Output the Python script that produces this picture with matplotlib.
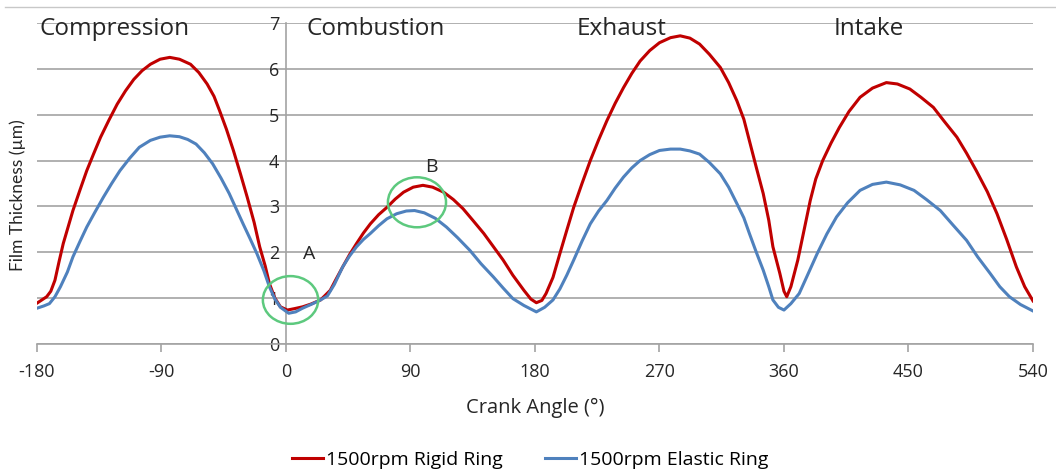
import matplotlib.pyplot as plt
from matplotlib.patches import Ellipse
from matplotlib.lines import Line2D

plt.rcParams['font.family'] = ['Open Sans', 'DejaVu Sans']
plt.rcParams['axes.unicode_minus'] = False

# crank angle (deg) / film thickness (um)
rigid_angle = [-180, -176, -173, -170, -167, -164, -161, -157, -154, -149, -144,
               -139, -134, -128, -122, -116, -110, -104, -98, -91, -84, -77,
               -69, -63, -57, -52, -48, -43, -38, -33, -28, -23, -19, -15,
               -12, -8, -4, 1, 6, 12, 18, 25, 28, 32, 36, 41, 46, 51, 56, 61,
               67, 73, 79, 85, 92, 99, 106, 114, 121, 128, 135, 143, 150, 157,
               164, 172, 177, 181, 185, 188, 193, 198, 203, 208, 214, 220,
               226, 232, 238, 244, 250, 256, 263, 270, 278, 285, 292, 299,
               306, 314, 320, 326, 331, 335, 340, 345, 349, 352, 357, 360,
               362, 365, 368, 370, 375, 379, 383, 388, 394, 400, 407, 415,
               424, 434, 442, 451, 459, 468, 476, 485, 492, 499, 507, 514,
               521, 528, 534, 540]
rigid_film = [0.89, 0.97, 1.03, 1.15, 1.39, 1.80, 2.19, 2.60, 2.91, 3.35, 3.78,
              4.15, 4.51, 4.88, 5.23, 5.52, 5.77, 5.96, 6.10, 6.21, 6.25, 6.21,
              6.10, 5.92, 5.67, 5.40, 5.09, 4.68, 4.22, 3.72, 3.20, 2.65, 2.12,
              1.70, 1.32, 1.00, 0.81, 0.74, 0.77, 0.81, 0.87, 0.96, 1.05, 1.17,
              1.40, 1.68, 1.95, 2.19, 2.42, 2.62, 2.82, 2.98, 3.16, 3.31, 3.42,
              3.46, 3.42, 3.31, 3.15, 2.95, 2.70, 2.41, 2.12, 1.83, 1.50, 1.17,
              0.98, 0.90, 0.95, 1.10, 1.45, 1.97, 2.48, 2.98, 3.50, 4.00, 4.45,
              4.87, 5.25, 5.59, 5.90, 6.17, 6.40, 6.57, 6.68, 6.72, 6.67, 6.54,
              6.32, 6.03, 5.70, 5.30, 4.90, 4.43, 3.85, 3.28, 2.70, 2.12, 1.54,
              1.15, 1.03, 1.25, 1.60, 1.83, 2.55, 3.13, 3.60, 4.00, 4.38, 4.72,
              5.07, 5.38, 5.58, 5.70, 5.67, 5.56, 5.38, 5.16, 4.85, 4.51, 4.16,
              3.78, 3.32, 2.84, 2.28, 1.68, 1.25, 0.94]

elastic_angle = [-180, -175, -171, -167, -163, -158, -154, -149, -144, -138,
                 -132, -126, -120, -113, -106, -98, -91, -84, -77, -71, -65,
                 -59, -53, -47, -41, -36, -31, -26, -21, -16, -12, -8, -4, 2,
                 7, 12, 18, 25, 30, 35, 41, 46, 51, 56, 61, 67, 73, 80, 87, 93,
                 100, 108, 116, 124, 133, 141, 150, 157, 164, 172, 181, 187,
                 193, 198, 203, 208, 214, 220, 226, 232, 238, 244, 250, 256,
                 263, 270, 278, 285, 292, 299, 306, 314, 320, 326, 331, 335,
                 340, 345, 349, 352, 356, 360, 365, 371, 377, 384, 391, 398,
                 406, 415, 424, 434, 444, 454, 463, 473, 482, 492, 500, 509,
                 516, 523, 531, 540]
elastic_film = [0.78, 0.83, 0.88, 1.03, 1.25, 1.57, 1.90, 2.23, 2.55, 2.88,
                3.20, 3.50, 3.78, 4.05, 4.29, 4.44, 4.51, 4.54, 4.52, 4.46,
                4.36, 4.17, 3.93, 3.62, 3.28, 2.95, 2.62, 2.30, 1.97, 1.60,
                1.25, 0.98, 0.80, 0.67, 0.70, 0.78, 0.86, 0.96, 1.05, 1.30,
                1.68, 1.92, 2.12, 2.28, 2.41, 2.58, 2.73, 2.84, 2.90, 2.91,
                2.86, 2.74, 2.55, 2.32, 2.04, 1.75, 1.46, 1.22, 0.99, 0.84,
                0.70, 0.80, 0.96, 1.20, 1.50, 1.83, 2.24, 2.62, 2.90, 3.13,
                3.40, 3.64, 3.84, 4.00, 4.13, 4.22, 4.25, 4.25, 4.21, 4.14,
                3.96, 3.71, 3.42, 3.06, 2.75, 2.41, 2.00, 1.61, 1.25, 0.96,
                0.80, 0.74, 0.88, 1.10, 1.50, 1.97, 2.40, 2.77, 3.08, 3.35,
                3.48, 3.53, 3.47, 3.35, 3.15, 2.91, 2.60, 2.26, 1.90, 1.54,
                1.25, 1.03, 0.86, 0.72]

x_ticks = [-180, -90, 0, 90, 180, 270, 360, 450, 540]
y_ticks = [0, 1, 2, 3, 4, 5, 6, 7]
phases = ['Compression', 'Combustion', 'Exhaust', 'Intake']
phase_x = [-178, 15, 210, 396]

fig = plt.figure(figsize=(10.56, 4.74), dpi=100)
ax = fig.add_axes([0.035, 0.2743, 0.9432, 0.6772])

red = '#C00000'
blue = '#4F81BD'
grid_c = '#A3A3A3'
txt = '#262626'

ax.plot(rigid_angle, rigid_film, color=red, lw=2.2, label='1500rpm Rigid Ring', zorder=3)
ax.plot(elastic_angle, elastic_film, color=blue, lw=2.2, label='1500rpm Elastic Ring', zorder=3)

ax.set_xlim(-180, 540)
ax.set_ylim(0, 7)
ax.set_xticks(x_ticks)
ax.set_yticks(y_ticks)

# x axis along y=0, y axis crossing at 0 deg
for s in ['top', 'right']:
    ax.spines[s].set_visible(False)
ax.spines['left'].set_position(('data', 0))
for s in ['left', 'bottom']:
    ax.spines[s].set_color(grid_c)
    ax.spines[s].set_linewidth(1.2)
ax.tick_params(axis='x', direction='out', length=6, width=1.2, color=grid_c,
               labelsize=13, pad=8, labelcolor=txt)
ax.tick_params(axis='y', length=0, labelsize=13, pad=5, labelcolor=txt)
ax.grid(axis='y', color=grid_c, lw=1.2)
ax.set_axisbelow(True)

for name, px in zip(phases, phase_x):
    ax.text(px, 6.87, name, ha='left', va='center', fontsize=17.5, color=txt)

# green markers around points A and B
ax.add_patch(Ellipse((3.3, 0.96), 40, 1.04, fill=False, ec='#5DC97E', lw=1.8, zorder=4))
ax.add_patch(Ellipse((94.7, 3.09), 42, 1.09, fill=False, ec='#5DC97E', lw=1.8, zorder=4))
ax.text(17, 1.96, 'A', ha='center', va='center', fontsize=14, color=txt)
ax.text(105, 3.85, 'B', ha='center', va='center', fontsize=14, color=txt)

fig.text(18 / 1056, 1 - 195 / 474, 'Film Thickness (µm)', rotation=90,
         ha='center', va='center', fontsize=12.5, color=txt, family='Lato')
fig.text(535 / 1056, 1 - 408 / 474, 'Crank Angle (°)', ha='center', va='center',
         fontsize=14.5, color=txt)

fig.legend(loc='center', bbox_to_anchor=(530 / 1056, 1 - 460 / 474), ncol=2,
           frameon=False, fontsize=14, handlelength=1.6, columnspacing=2.2,
           handletextpad=0.15)

# thin frame line at the top of the picture
fig.add_artist(Line2D([5 / 1056, 1], [1 - 7 / 474, 1 - 7 / 474],
                      transform=fig.transFigure, color='#C8C8C8', lw=1))

fig.savefig('out.png', dpi=100)
